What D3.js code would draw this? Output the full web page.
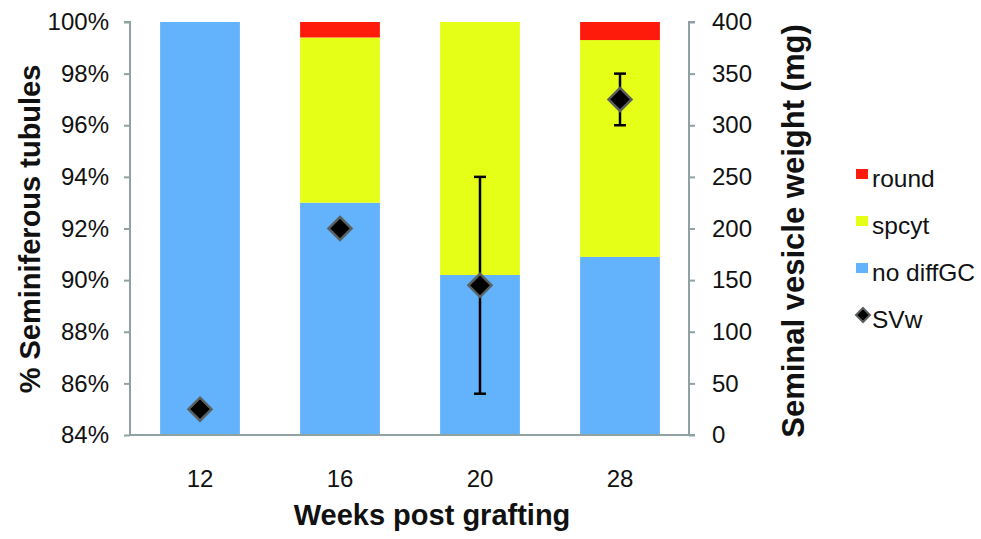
<!DOCTYPE html>
<html>
<head>
<meta charset="utf-8">
<script src="https://cdn.jsdelivr.net/npm/d3@7"></script>
<style>
  body { margin: 0; background: #fff; }
  svg { display: block; font-family: "Liberation Sans", Arial, Helvetica, sans-serif; }
</style>
</head>
<body>
<svg id="chart" width="981" height="539"></svg>
<script>
// data
const weeks = ["12", "16", "20", "28"];
const noDiffGC = [100, 93.0, 90.2, 90.9];
const spcyt = [0, 6.4, 9.8, 8.4];
const round = [0, 0.6, 0, 0.7];
const svw = [25, 200, 145, 325];
const svwErr = [0, 0, 105, 25];
const pctTicks = [84, 86, 88, 90, 92, 94, 96, 98, 100];
const mgTicks = [0, 50, 100, 150, 200, 250, 300, 350, 400];

const colors = { round: "#fe1b0c", spcyt: "#e6ff17", noDiffGC: "#62b3fc" };
const axisColor = "#8fa1a3";

const plotLeft = 130, plotRight = 689, plotTop = 22, plotBottom = 435;

const svg = d3.select("#chart");

const x = d3.scaleBand().domain(weeks).range([plotLeft, plotRight + 1])
  .paddingInner(0.43).paddingOuter(0.215);
const yPct = d3.scaleLinear().domain([84, 100]).range([plotBottom, plotTop]);
const yMg = d3.scaleLinear().domain([0, 400]).range([plotBottom, plotTop]);

// stacked bars
const keys = ["noDiffGC", "spcyt", "round"];
const rows = weeks.map((w, i) => ({ week: w, noDiffGC: noDiffGC[i], spcyt: spcyt[i], round: round[i] }));
const stack = d3.stack().keys(keys)(rows);

svg.append("g").selectAll("g")
  .data(stack)
  .join("g")
  .attr("fill", d => colors[d.key])
  .selectAll("rect")
  .data(d => d)
  .join("rect")
  .attr("x", d => x(d.data.week))
  .attr("width", x.bandwidth())
  .attr("y", d => yPct(Math.min(d[1], 100)))
  .attr("height", d => Math.max(0, yPct(Math.max(d[0], 84)) - yPct(Math.min(d[1], 100))));

// axes
const gl = svg.append("g").attr("transform", `translate(${plotLeft},0)`)
  .call(d3.axisLeft(yPct).tickValues(pctTicks).tickFormat(d => d + "%").tickSize(6).tickPadding(15));
const gr = svg.append("g").attr("transform", `translate(${plotRight},0)`)
  .call(d3.axisRight(yMg).tickValues(mgTicks).tickSize(6).tickPadding(17));
[gl, gr].forEach(g => {
  g.select(".domain").attr("stroke", axisColor).attr("stroke-width", 2);
  g.selectAll(".tick line").attr("stroke", axisColor).attr("stroke-width", 2);
  g.selectAll(".tick text").attr("font-size", 24).attr("fill", "#111")
    .attr("font-family", "'Liberation Sans', Arial, Helvetica, sans-serif");
});
gl.select(".domain").attr("d", `M-6,${plotTop}H0V${plotBottom}`);
gr.select(".domain").attr("d", `M6,${plotTop}H0V${plotBottom}`);

const gb = svg.append("g").attr("transform", `translate(0,${plotBottom})`)
  .call(d3.axisBottom(x).tickSize(0).tickPadding(35));
gb.select(".domain").attr("d", `M${plotLeft},0H${plotRight + 6}`).attr("stroke", axisColor).attr("stroke-width", 2);
gb.selectAll(".tick text").attr("font-size", 24).attr("fill", "#111")
  .attr("font-family", "'Liberation Sans', Arial, Helvetica, sans-serif");

// error bars + diamonds
const pts = weeks.map((w, i) => ({ week: w, v: svw[i], e: svwErr[i] }));
const eb = svg.append("g").attr("stroke", "#000").attr("stroke-width", 2.5);
pts.filter(d => d.e > 0).forEach(d => {
  const cx = x(d.week) + x.bandwidth() / 2;
  eb.append("line").attr("x1", cx).attr("x2", cx).attr("y1", yMg(d.v - d.e)).attr("y2", yMg(d.v + d.e));
  [d.v - d.e, d.v + d.e].forEach(v => {
    eb.append("line").attr("x1", cx - 6).attr("x2", cx + 6).attr("y1", yMg(v)).attr("y2", yMg(v));
  });
});

function diamond(r) { return `M0,${-r}L${r},0L0,${r}L${-r},0Z`; }

svg.append("g").selectAll("path")
  .data(pts)
  .join("path")
  .attr("d", diamond(11.5))
  .attr("transform", d => `translate(${x(d.week) + x.bandwidth() / 2},${yMg(d.v)})`)
  .attr("fill", "#000")
  .attr("stroke", "#5a5f60")
  .attr("stroke-width", 2.5);

// axis titles
svg.append("text")
  .attr("transform", `translate(40,229) rotate(-90)`)
  .attr("text-anchor", "middle")
  .attr("font-size", 29).attr("font-weight", "bold").attr("fill", "#111")
  .text("% Seminiferous tubules");
svg.append("text")
  .attr("transform", `translate(804,231) rotate(-90)`)
  .attr("text-anchor", "middle")
  .attr("font-size", 31).attr("font-weight", "bold").attr("fill", "#111")
  .text("Seminal vesicle weight (mg)");
svg.append("text")
  .attr("x", 432).attr("y", 525)
  .attr("text-anchor", "middle")
  .attr("font-size", 29).attr("font-weight", "bold").attr("fill", "#111")
  .text("Weeks post grafting");

// legend
const legendItems = [
  { label: "round", color: colors.round },
  { label: "spcyt", color: colors.spcyt },
  { label: "no diffGC", color: colors.noDiffGC },
  { label: "SVw", marker: true }
];
const lg = svg.append("g").attr("transform", "translate(856,0)");
legendItems.forEach((d, i) => {
  const cy = 178 + i * 47;
  if (d.marker) {
    lg.append("path").attr("d", diamond(7)).attr("transform", `translate(7,${cy - 4})`)
      .attr("fill", "#000").attr("stroke", "#5a5f60").attr("stroke-width", 2);
  } else {
    lg.append("rect").attr("x", 0).attr("y", cy - 9).attr("width", 12).attr("height", 10).attr("fill", d.color);
  }
  lg.append("text").attr("x", 16).attr("y", cy + 9)
    .attr("font-size", 24.5).attr("fill", "#111").text(d.label);
});
</script>
</body>
</html>
